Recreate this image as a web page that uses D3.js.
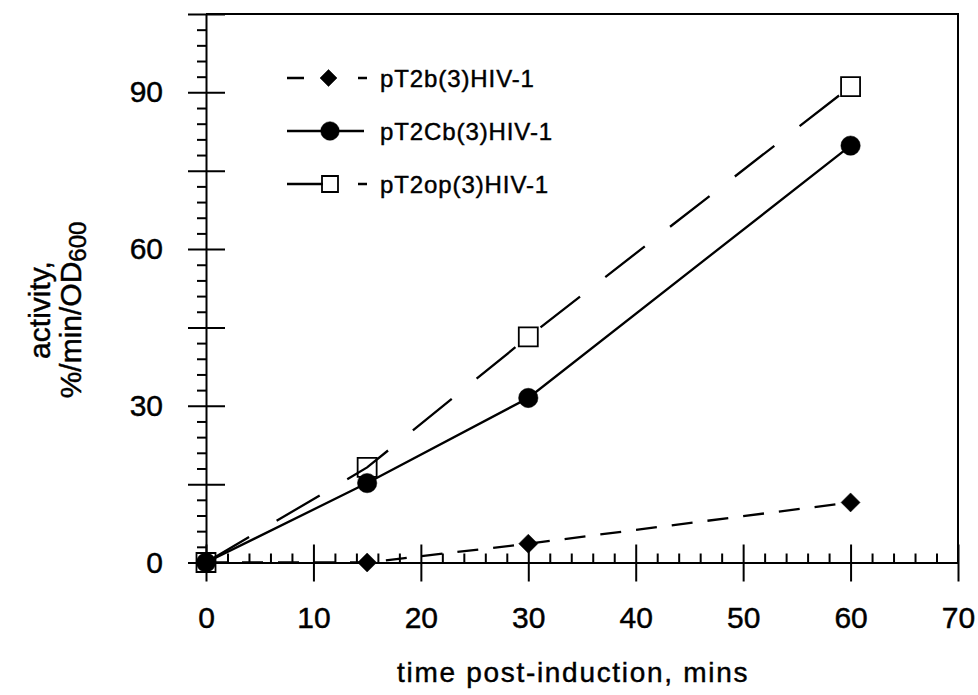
<!DOCTYPE html>
<html>
<head>
<meta charset="utf-8">
<script src="https://cdn.jsdelivr.net/npm/d3@7"></script>
<style>
  body { margin: 0; background: #fff; }
  text { font-family: "Liberation Sans", Arial, Helvetica, sans-serif; fill: #000; stroke: #000; stroke-width: 0.45px; }
</style>
</head>
<body>
<div class="chart"></div>
<script>
/* values */
const times = [0, 15, 30, 60];
const pT2b = [0, 0, 3.6, 11.5];
const pT2Cb = [0, 15.2, 31.5, 79.8];
const pT2op = [0, 18.2, 43.2, 91.1];
const seriesNames = ["pT2b(3)HIV-1", "pT2Cb(3)HIV-1", "pT2op(3)HIV-1"];
const xTickLabels = [0, 10, 20, 30, 40, 50, 60, 70];
const yTickLabels = [0, 30, 60, 90];

/* initialize SVG */
const width = 978;
const height = 695;
const svg = d3.select(".chart").append("svg")
  .attr("width", width)
  .attr("height", height);

/* scales */
const x = d3.scaleLinear().domain([0, 70]).range([206, 958]);
const y = d3.scaleLinear().domain([0, 105]).range([562.5, 14]);

/* series setup */
const series = [
  {name: seriesNames[0], values: pT2b, dash: "21,15", marker: "diamond"},
  {name: seriesNames[1], values: pT2Cb, dash: null, marker: "circle"},
  {name: seriesNames[2], values: pT2op, dash: "50,32", marker: "square"}
];

/* marker shapes */
function markerPath(type, s) {
  if (type === "diamond") return `M0,${-s}L${s},0L0,${s}L${-s},0Z`;
  if (type === "square") return `M${-s},${-s}H${s}V${s}H${-s}Z`;
  return d3.symbol(d3.symbolCircle, Math.PI * s * s)();
}
function drawMarker(g, type, s) {
  g.append("path")
    .attr("d", markerPath(type, s))
    .attr("fill", type === "square" ? "none" : "#000")
    .attr("stroke", "#000")
    .attr("stroke-width", type === "square" ? 1.8 : 0.5);
}

/* frame (top and right) */
svg.append("path")
  .attr("d", `M${x(0)},${y(105)}H${x(70)}V${y(0)}`)
  .attr("fill", "none")
  .attr("stroke", "#000")
  .attr("stroke-width", 2);

/* x axis: minor ticks inside, major ticks crossing */
const xMinor = d3.range(0, 71, 2).filter(d => d % 10 !== 0);
svg.append("g")
  .attr("transform", `translate(0,${y(0)})`)
  .call(d3.axisBottom(x).tickValues(xMinor).tickSize(-9).tickSizeOuter(0).tickFormat(""))
  .call(g => g.select(".domain").remove());

const xAxis = svg.append("g")
  .attr("transform", `translate(0,${y(0)})`)
  .call(d3.axisBottom(x).tickValues(xTickLabels).tickSize(19).tickSizeOuter(0).tickPadding(25));
xAxis.selectAll(".tick line").attr("y1", -18);
xAxis.selectAll(".tick text").attr("font-size", 30).attr("font-family", null);

/* y axis: minor ticks outside, major ticks crossing */
const yMinor = d3.range(0, 106, 3).filter(d => d % 15 !== 0);
svg.append("g")
  .attr("transform", `translate(${x(0)},0)`)
  .call(d3.axisLeft(y).tickValues(yMinor).tickSize(9).tickSizeOuter(0).tickFormat(""))
  .call(g => g.select(".domain").remove());

const yAxis = svg.append("g")
  .attr("transform", `translate(${x(0)},0)`)
  .call(d3.axisLeft(y).tickValues(d3.range(0, 106, 15)).tickSize(18).tickSizeOuter(0).tickPadding(25)
    .tickFormat(d => yTickLabels.includes(d) ? d : ""));
yAxis.selectAll(".tick line").attr("x1", 19);
yAxis.selectAll(".tick text").attr("font-size", 30).attr("font-family", null);

svg.selectAll(".domain, .tick line")
  .attr("stroke", "#000")
  .attr("stroke-width", 2);

/* axis titles */
svg.append("text")
  .attr("x", 397)
  .attr("y", 682)
  .attr("font-size", 28)
  .attr("letter-spacing", 1.7)
  .text("time post-induction, mins");

const yTitle = svg.append("g")
  .attr("transform", "translate(0,310) rotate(-90)");
yTitle.append("text")
  .attr("x", 0).attr("y", 50)
  .attr("text-anchor", "middle")
  .attr("font-size", 30)
  .text("activity,");
const yt2 = yTitle.append("text")
  .attr("x", 0).attr("y", 81)
  .attr("text-anchor", "middle")
  .attr("font-size", 30);
yt2.append("tspan").text("%/min/OD");
yt2.append("tspan").attr("font-size", 24).attr("dy", 5).text("600");

/* lines */
const line = d3.line()
  .x((d, i) => x(times[i]))
  .y(d => y(d));

svg.append("g").selectAll("path")
  .data(series)
  .join("path")
    .attr("d", d => line(d.values))
    .attr("fill", "none")
    .attr("stroke", "#000")
    .attr("stroke-width", 2.3)
    .attr("stroke-dasharray", d => d.dash);

/* markers: diamonds, circles, then open squares */
series.forEach(s => {
  s.values.forEach((v, i) => {
    const g = svg.append("g").attr("transform", `translate(${x(times[i])},${y(v)})`);
    drawMarker(g, s.marker, s.marker === "circle" ? 9.7 : 9.5);
  });
});

/* legend */
const legend = svg.append("g").attr("class", "legend");
series.forEach((s, i) => {
  const ly = 78 + i * 53;
  const row = legend.append("g").attr("transform", `translate(0,${ly})`);
  if (s.marker === "diamond") {
    row.append("path").attr("d", "M287,0H304M358,0H367");
  } else if (s.marker === "circle") {
    row.append("path").attr("d", "M287,0H364");
  } else {
    row.append("path").attr("d", "M287,0H323M358,0H367");
  }
  row.select("path").attr("stroke", "#000").attr("stroke-width", 2.3);
  const m = row.append("g").attr("transform", `translate(${s.marker === "diamond" ? 328.5 : 330},0)`);
  drawMarker(m, s.marker, s.marker === "diamond" ? 8.5 : s.marker === "circle" ? 9.3 : 8);
  row.append("text")
    .attr("x", 380)
    .attr("y", 9)
    .attr("font-size", 24)
    .attr("letter-spacing", 0.9)
    .text(s.name);
});
</script>
</body>
</html>
